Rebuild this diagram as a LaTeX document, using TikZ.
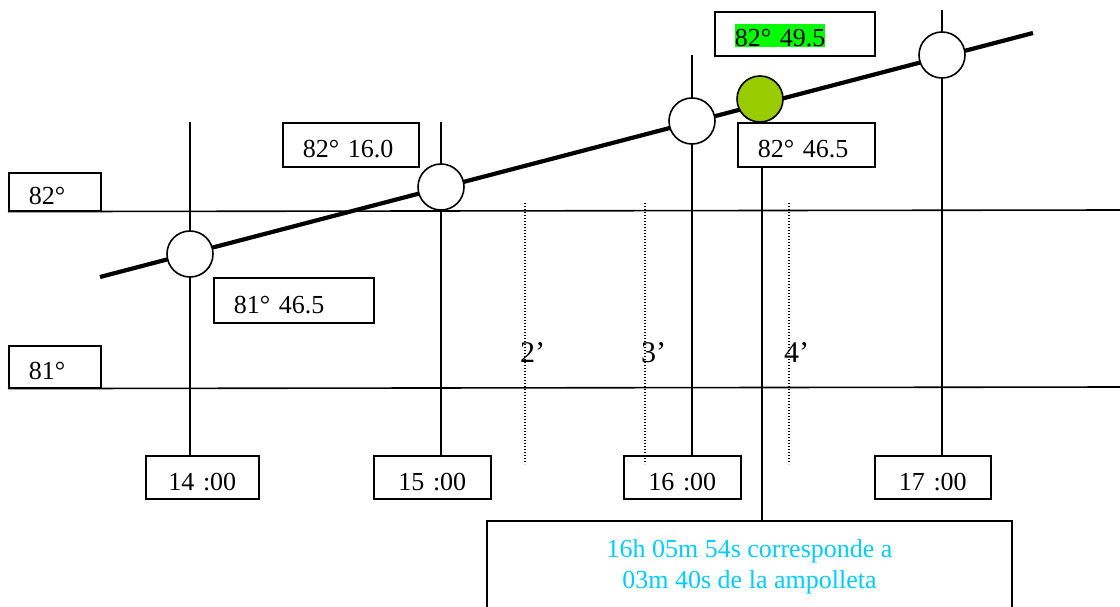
\documentclass[tikz,border=0pt]{standalone}
\usepackage{fontspec}
\setmainfont{Liberation Serif}
\definecolor{hlgreen}{HTML}{00FF00}
\definecolor{ballgreen}{HTML}{99CC00}
\definecolor{notecyan}{HTML}{00CCFF}
\begin{document}
\begin{tikzpicture}[x=1pt,y=-1pt,
  thinln/.style={line width=1.6pt},
  lbl/.style={draw, line width=1.6pt, minimum height=44pt, inner xsep=20pt, inner ysep=0pt,
    text height=26pt, text depth=0pt, align=left, anchor=north west,
    font=\fontsize{26}{31}\selectfont},
  tbox/.style={lbl, align=center},
  circ/.style={circle, draw, line width=1.6pt, fill=white, minimum size=46pt, inner sep=0pt},
  dotln/.style={line width=1.6pt, dash pattern=on 1.4pt off 1.6pt},
  prime/.style={font=\fontsize{30}{34}\selectfont, anchor=base west, inner sep=0pt}
]
\useasboundingbox (0,0) rectangle (1120,607);
% degree boxes at left
\node[lbl, minimum height=38pt, text width=52pt] (b82) at (8,172) {82°};
\node[lbl, minimum height=42pt, text width=52pt] (b81) at (8,345) {81°};
\coordinate (r82) at (1121,210);
\coordinate (r81) at (1121,387);
\draw[thinln] (b82.south west) -- (r82);
\draw[thinln] (b81.south west) -- (r81);
% time boxes
\node[tbox, minimum height=43pt, text width=73pt] (t14) at (145,455) {14 :00};
\node[tbox, minimum height=43pt, text width=77pt] (t15) at (373,455) {15 :00};
\node[tbox, minimum height=43pt, text width=77pt] (t16) at (623,455) {16 :00};
\node[tbox, minimum height=43pt, text width=76pt] (t17) at (874,455) {17 :00};
% vertical lines
\coordinate (v1) at (190,122);
\coordinate (v2) at (441,122);
\coordinate (v3) at (692,55);
\coordinate (v4) at (942,10);
\draw[thinln] (v1) -- (v1 |- t14.north);
\draw[thinln] (v2) -- (v2 |- t15.north);
\draw[thinln] (v3) -- (v3 |- t16.north);
\draw[thinln] (v4) -- (v4 |- t17.north);
% dotted minute lines
\coordinate (d2a) at (525,203); \coordinate (d2b) at (525,464);
\coordinate (d3a) at (645,203); \coordinate (d3b) at (645,464);
\coordinate (d4a) at (789,203); \coordinate (d4b) at (789,464);
\draw[dotln] (d2a) -- (d2b);
\draw[dotln] (d3a) -- (d3b);
\draw[dotln] (d4a) -- (d4b);
\node[prime] (m2) at (520,362) {2’};
\node[prime] (m3) at (641,362) {3’};
\node[prime] (m4) at (784,362) {4’};
% altitude labels
\node[lbl, text width=120pt] (b495) at (714,11) {{\setlength{\fboxsep}{0pt}\colorbox{hlgreen}{\rule{0pt}{23pt}82° 49.5}}};
\node[lbl, text width=97pt] (b465) at (737,122) {82° 46.5};
\node[lbl, text width=96pt] (b160) at (282,122) {82° 16.0};
\node[lbl, minimum height=45pt, text width=120pt] (b8146) at (213,277) {81° 46.5};
% thick line
\coordinate (L0) at (100,277);
\coordinate (L1) at (1033,33);
\draw[line width=4.2pt] (L0) -- (L1);
% circles
\node[circ] (c1) at (190,254) {};
\node[circ] (c2) at (441,187) {};
\node[circ] (c3) at (692,121) {};
\node[circ] (c4) at (942,55) {};
\node[circ, fill=ballgreen] (g) at (760,99) {};
% note box
\node[draw, line width=1.6pt, minimum width=525pt, minimum height=92pt, anchor=north,
  inner sep=0pt, align=center, text=notecyan, font=\fontsize{26}{31}\selectfont]
  (note) at (749.5,520) {16h 05m 54s corresponde a\\03m 40s de la ampolleta};
\coordinate (kx) at (762,0);
\draw[thinln] (kx |- b465.south) -- (kx |- note.north);
\end{tikzpicture}
\end{document}
